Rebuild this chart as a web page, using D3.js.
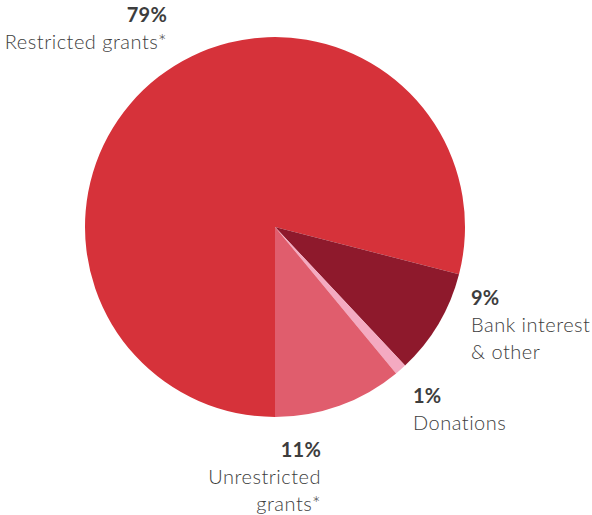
<!DOCTYPE html>
<html>
<head>
<meta charset="utf-8">
<script src="https://cdn.jsdelivr.net/npm/d3@7"></script>
<style>
  body { margin: 0; background: #fff; }
  svg text { font-family: Lato, "Open Sans", sans-serif; fill: #3d3d3d; }
</style>
</head>
<body>
<svg id="chart" width="592" height="515"></svg>
<script>
const categories = ["Restricted grants*", "Bank interest & other", "Donations", "Unrestricted grants*"];
const values = [79, 9, 1, 11];
const labelLines = [["Restricted grants*"], ["Bank interest", "& other"], ["Donations"], ["Unrestricted", "grants*"]];
const colors = ["#d6323a", "#8e192c", "#f4aac1", "#e05d6d"];

const svg = d3.select("#chart");
const cx = 275, cy = 227, radius = 190;

const pie = d3.pie()
    .sort(null)
    .value(d => d.value)
    .startAngle(Math.PI)
    .endAngle(3 * Math.PI);

const data = categories.map((c, i) => ({ name: c, value: values[i], lines: labelLines[i], color: colors[i] }));
const arcs = pie(data);

const arc = d3.arc().innerRadius(0).outerRadius(radius);

const g = svg.append("g").attr("transform", `translate(${cx},${cy})`);
g.selectAll("path")
    .data(arcs)
    .enter().append("path")
    .attr("d", arc)
    .attr("fill", d => d.data.color);

// label anchors (baseline of the percentage line)
const labelPos = [
    { x: 167, y: 22, anchor: "end" },
    { x: 471, y: 305, anchor: "start" },
    { x: 413, y: 403, anchor: "start" },
    { x: 321, y: 457, anchor: "end" }
];

data.forEach((d, i) => {
    const p = labelPos[i];
    const t = svg.append("text")
        .attr("x", p.x)
        .attr("y", p.y)
        .attr("text-anchor", p.anchor)
        .style("font-size", "20px");
    t.append("tspan")
        .attr("x", p.x)
        .style("font-weight", 700)
        .style("letter-spacing", "0.2px")
        .text(d.value + "%");
    d.lines.forEach(line => {
        t.append("tspan")
            .attr("x", p.x)
            .attr("dy", 27)
            .style("font-weight", 300)
            .style("letter-spacing", "0.5px")
            .text(line);
    });
});
</script>
</body>
</html>
